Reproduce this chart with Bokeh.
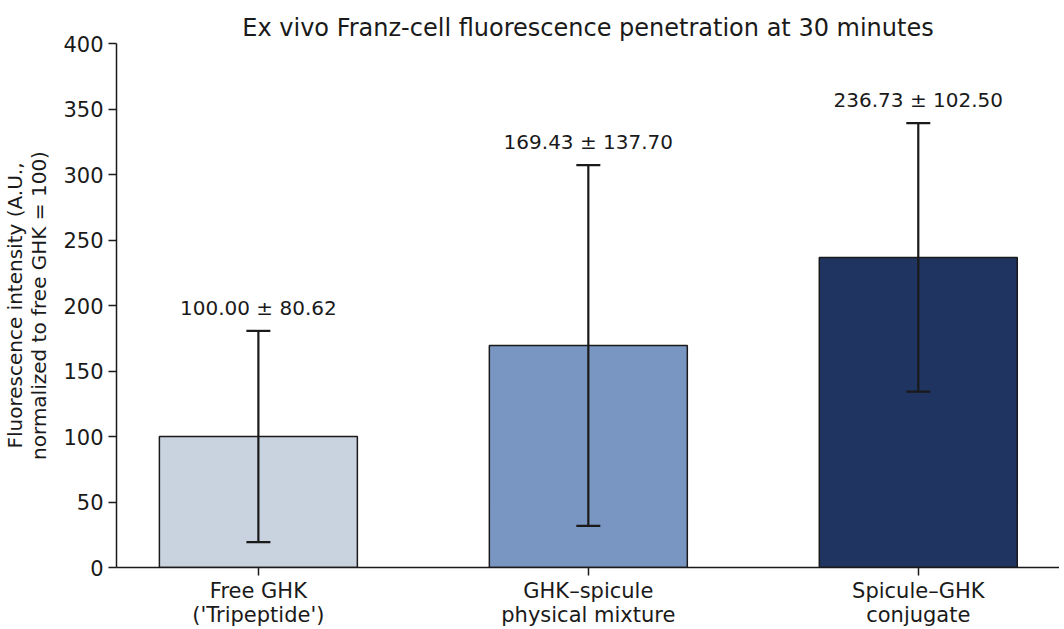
from bokeh.plotting import figure
from bokeh.models import ColumnDataSource, FixedTicker, Range1d, Title
from bokeh.embed import file_html
from bokeh.resources import INLINE
from bokeh.core.properties import value

# data
groups = ["Free GHK\n('Tripeptide')", "GHK\u2013spicule\nphysical mixture", "Spicule\u2013GHK\nconjugate"]
means = [100.00, 169.43, 236.73]
sds = [80.62, 137.70, 102.50]
colors = ["#c9d2df", "#7996c2", "#1f3461"]
y_ticks = [0, 50, 100, 150, 200, 250, 300, 350, 400]

pos = list(range(len(groups)))
src = ColumnDataSource(data=dict(
    x=pos, mean=means, sd=sds, color=colors,
    upper=[m + s for m, s in zip(means, sds)],
    lower=[m - s for m, s in zip(means, sds)],
    label=["%.2f \u00b1 %.2f" % (m, s) for m, s in zip(means, sds)],
))

FONT = "DejaVu Sans"
INK = "#1a1a1a"

p = figure(frame_width=943, frame_height=524, output_backend="svg", toolbar_location=None,
           x_range=Range1d(-0.43, 2.428), y_range=Range1d(0, 400),
           min_border_left=116, min_border_right=0, min_border_top=43, min_border_bottom=0)
p.title = None
p.add_layout(Title(text="Ex vivo Franz-cell fluorescence penetration at 30 minutes",
                   align="center", text_font=FONT, text_font_size="24px",
                   text_font_style="normal", text_color=INK, standoff=4), "above")

p.vbar(x="x", top="mean", bottom=0, width=0.6, source=src,
       fill_color="color", line_color=INK, line_width=1.5)

# error bars: stem plus caps, drawn over the bars
p.segment(x0="x", y0="lower", x1="x", y1="upper", source=src,
          line_color=INK, line_width=2.2)
p.scatter(x="x", y="upper", source=src, marker="dash", size=24,
          line_color=INK, line_width=2.2)
p.scatter(x="x", y="lower", source=src, marker="dash", size=24,
          line_color=INK, line_width=2.2)

p.text(x="x", y="upper", text="label", source=src, y_offset=-11,
       text_align="center", text_baseline="bottom",
       text_font=value(FONT), text_font_size="20px", text_color=INK)

p.outline_line_color = None
p.xgrid.visible = False
p.ygrid.visible = False
p.background_fill_color = "white"
p.border_fill_color = "white"

p.xaxis.ticker = FixedTicker(ticks=pos)
p.xaxis.major_label_overrides = {i: g for i, g in enumerate(groups)}
p.xaxis.minor_tick_line_color = None
p.yaxis.ticker = FixedTicker(ticks=y_ticks)
p.yaxis.minor_tick_line_color = None

for ax in (p.xaxis, p.yaxis):
    ax.axis_line_color = INK
    ax.axis_line_width = 1.5
    ax.major_tick_line_color = INK
    ax.major_tick_line_width = 1.5
    ax.major_tick_out = 8
    ax.major_tick_in = 0
    ax.major_label_text_font = FONT
    ax.major_label_text_font_size = "21px"
    ax.major_label_text_color = INK
    ax.major_label_standoff = 5

p.xaxis.major_label_standoff = 3
p.xaxis.major_label_text_line_height = 1.0
p.xaxis.axis_label_standoff = 0

p.yaxis.axis_label = "Fluorescence intensity (A.U.,\nnormalized to free GHK = 100)"
p.yaxis.axis_label_text_font = FONT
p.yaxis.axis_label_text_font_size = "20px"
p.yaxis.axis_label_text_font_style = "normal"
p.yaxis.axis_label_text_color = INK
p.yaxis.axis_label_text_line_height = 1.0
p.yaxis.axis_label_standoff = 9

open("out.html", "w").write(file_html(p, INLINE))
